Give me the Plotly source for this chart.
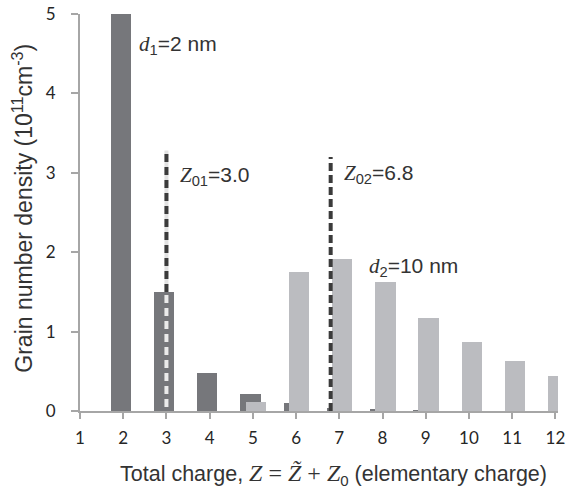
import plotly.graph_objects as go

# ---- data ----
charge = [1, 2, 3, 4, 5, 6, 7, 8, 9, 10, 11, 12]
density_d1 = [0, 5.05, 1.50, 0.48, 0.21, 0.10, 0.04, 0.02, 0.005, 0, 0, 0]        # d1 = 2 nm
density_d2 = [0, 0, 0, 0, 0.11, 1.75, 1.91, 1.62, 1.175, 0.865, 0.635, 0.44]     # d2 = 10 nm
z01 = 3.0
z02 = 6.8
z01_top = 3.28
z02_top = 3.20
xticks = list(range(1, 13))
yticks = [0, 1, 2, 3, 4, 5]

DARK = "#76777b"
LIGHT = "#bbbcc0"
LINE = "#3b3b3b"
AXIS = "#a6a6a6"
SERIF = "Liberation Serif"
SANS = "Liberation Sans"

fig = go.Figure()
fig.add_trace(go.Bar(x=charge, y=density_d1, width=0.47, offset=-0.29,
                     marker=dict(color=DARK, line=dict(width=0)), showlegend=False))
fig.add_trace(go.Bar(x=charge, y=density_d2, width=0.47, offset=-0.17,
                     marker=dict(color=LIGHT, line=dict(width=0)), showlegend=False))

# Z01 line: light background + dark dashes above the bar, light dashes over the bar
bar3 = density_d1[charge.index(3)]
fig.add_shape(type="line", x0=z01, x1=z01, y0=bar3, y1=z01_top,
              line=dict(color="#e2e2e2", width=4))
fig.add_shape(type="line", x0=z01, x1=z01, y0=bar3, y1=z01_top,
              line=dict(color=LINE, width=4, dash="8px,5px"))
fig.add_shape(type="line", x0=z01, x1=z01, y0=0.05, y1=bar3,
              line=dict(color="#ebebeb", width=4, dash="8px,5px"))
fig.add_shape(type="line", x0=z02, x1=z02, y0=0, y1=z02_top,
              line=dict(color=LINE, width=4, dash="8px,4px"))

def ann(x, y, text):
    fig.add_annotation(x=x, y=y, xref="x", yref="y", text=text, showarrow=False,
                       xanchor="left", yanchor="middle",
                       font=dict(family=SANS, size=21, color="#333333"))

ann(2.32, 4.61, f'<span style="font-family:{SERIF}"><i>d</i></span><sub>1</sub>=2 nm')
ann(3.26, 2.96, f'<span style="font-family:{SERIF}"><i>Z</i></span><sub>01</sub>=3.0')
ann(7.06, 2.98, f'<span style="font-family:{SERIF}"><i>Z</i></span><sub>02</sub>=6.8')
ann(7.63, 1.81, f'<span style="font-family:{SERIF}"><i>d</i></span><sub>2</sub>=10 nm')

xtitle = (f'Total charge, <span style="font-family:{SERIF};font-size:24px">'
          f'<i>Z</i> = <i>Z\u0303</i> + <i>Z</i></span>'
          f'<sub>0</sub> (elementary charge)')
ytitle = 'Grain number density (10<sup>11</sup>cm<sup>-3</sup>)'

# axis titles placed as paper-anchored text
fig.add_annotation(x=0.53, y=-0.161, xref="paper", yref="paper", text=xtitle,
                   showarrow=False, xanchor="center", yanchor="middle",
                   font=dict(family=SANS, size=21.5, color="#333333"))
fig.add_annotation(x=-0.121, y=0.51, xref="paper", yref="paper", text=ytitle,
                   showarrow=False, xanchor="center", yanchor="middle", textangle=-90,
                   font=dict(family=SANS, size=23, color="#333333"))

fig.update_layout(
    width=568, height=491,
    margin=dict(l=80, r=10, t=14, b=80),
    paper_bgcolor="white", plot_bgcolor="white",
    barmode="overlay", bargap=0,
    font=dict(family=SANS, size=20, color="#333333"),
)
fig.update_xaxes(range=[1, 12.06], tickvals=xticks, ticktext=[str(v) for v in xticks],
                 showgrid=False, zeroline=False, showline=True, linecolor=AXIS, linewidth=2,
                 ticks="outside", ticklen=6, tickwidth=1.5, tickcolor=AXIS,
                 ticklabelstandoff=5, automargin=False, ticklabeloverflow="allow",
                 tickfont=dict(family="Lato", size=17, color="#262626"))
fig.update_yaxes(range=[0, 5], tickvals=yticks,
                 showgrid=False, zeroline=False, showline=True, linecolor=AXIS, linewidth=2,
                 ticks="outside", ticklen=7, tickwidth=1.5, tickcolor=AXIS,
                 ticklabelstandoff=12, automargin=False, ticklabeloverflow="allow",
                 tickfont=dict(family="Lato", size=17, color="#262626"))

fig.write_html("out.html", config={"displayModeBar": False},
               post_script="document.body.style.margin='0';document.body.style.overflow='hidden';")
